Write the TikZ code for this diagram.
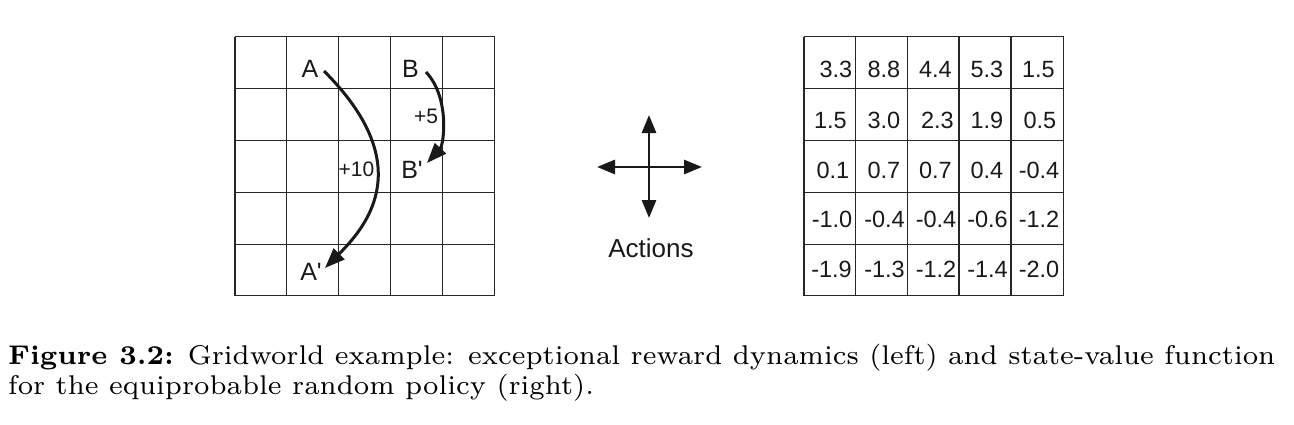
\documentclass[tikz,border=0pt]{standalone}
\usepackage{fontspec}
\newfontfamily\arial{Liberation Sans}
\newfontfamily\capfont{lmroman7-regular}[Extension=.otf, BoldFont=lmroman7-bold]
\usetikzlibrary{arrows.meta}
\begin{document}
\begin{tikzpicture}[x=1pt,y=-1pt,
  gridline/.style={line width=1.3pt, black!85},
  lbl/.style={font=\arial\fontsize{25}{30}\selectfont, anchor=base, inner sep=0pt, text=black!90},
  small/.style={font=\arial\fontsize{21}{24}\selectfont},
  num/.style={font=\arial\fontsize{23.5}{28}\selectfont, anchor=base east, inner sep=0pt, text=black!90},
  curvearr/.style={line width=3pt, black!90, -{Triangle[length=20pt,width=15pt]}},
  actarr/.style={line width=2.8pt, black!90, -{Triangle[length=18pt,width=14pt]}},
  captext/.style={font=\capfont\fontsize{27.1}{30}\selectfont, anchor=base west, inner sep=0pt}
]
\useasboundingbox (0,0) rectangle (1294,424);
% left grid
\foreach \x in {235,286.7,338.3,390.7,442.3,494.5}
  \draw[gridline] (\x,36.7) -- (\x,295.7);
\foreach \y in {36.7,88.3,140.3,192.3,244.3,295.7}
  \draw[gridline] (235,\y) -- (494.5,\y);
\node[lbl] (A) at (310,77.3) {A};
\node[lbl] (B) at (410.5,77.3) {B};
\node[lbl] (Ap) at (311,280) {A'};
\node[lbl] (Bp) at (412,178.5) {B'};
\node[lbl, small] (p5) at (426,123) {+5};
\node[lbl, small] (p10) at (356.5,176.5) {+10};
\coordinate (As) at (324,71);
\coordinate (Ae) at (325,268);
\coordinate (Bs) at (426,72);
\coordinate (Be) at (427,163);
\draw[curvearr] (As) .. controls (416,163) and (370,223) .. (Ae);
\draw[curvearr] (Bs) .. controls (450,97.5) and (444,144.5) .. (Be);
% actions
\coordinate (C) at (649,167);
\coordinate (Cu) at (649,115);
\coordinate (Cd) at (649,218);
\coordinate (Cl) at (597,167);
\coordinate (Cr) at (702,167);
\draw[actarr] (C) -- (Cu);
\draw[actarr] (C) -- (Cd);
\draw[actarr] (C) -- (Cl);
\draw[actarr] (C) -- (Cr);
\node[lbl, font=\arial\fontsize{26}{30}\selectfont] (act) at (651,257.3) {Actions};
% right grid
\foreach \x in {804,855.7,907.3,959,1011,1063.5}
  \draw[gridline] (\x,36.7) -- (\x,295.7);
\foreach \y in {36.7,88.3,140.3,192.3,244.3,295.7}
  \draw[gridline] (804,\y) -- (1063.5,\y);
\node[num] (v11) at (852.5,77.3) {3.3};
\node[num] (v12) at (900.5,77.3) {8.8};
\node[num] (v13) at (952,77.3) {4.4};
\node[num] (v14) at (1003.5,77.3) {5.3};
\node[num] (v15) at (1055,77.3) {1.5};
\node[num] (v21) at (847,128.5) {1.5};
\node[num] (v22) at (900.5,128.5) {3.0};
\node[num] (v23) at (954,128.5) {2.3};
\node[num] (v24) at (1003.5,128.5) {1.9};
\node[num] (v25) at (1056.5,128.5) {0.5};
\node[num] (v31) at (849.5,178.5) {0.1};
\node[num] (v32) at (900.5,178.5) {0.7};
\node[num] (v33) at (952,178.5) {0.7};
\node[num] (v34) at (1003.5,178.5) {0.4};
\node[num] (v35) at (1059.5,178.5) {-0.4};
\node[num] (v41) at (852.5,227) {-1.0};
\node[num] (v42) at (905,227) {-0.4};
\node[num] (v43) at (956.5,227) {-0.4};
\node[num] (v44) at (1008,227) {-0.6};
\node[num] (v45) at (1059.5,227) {-1.2};
\node[num] (v51) at (852,277.3) {-1.9};
\node[num] (v52) at (905,277.3) {-1.3};
\node[num] (v53) at (956.5,277.3) {-1.2};
\node[num] (v54) at (1008,277.3) {-1.4};
\node[num] (v55) at (1059.5,277.3) {-2.0};
% caption
\node[captext] (cap1) at (8,364) {\textbf{Figure 3.2:} Gridworld example: exceptional reward dynamics (left) and state-value function};
\node[captext] (cap2) at (8,394) {for the equiprobable random policy (right).};
\end{tikzpicture}
\end{document}
